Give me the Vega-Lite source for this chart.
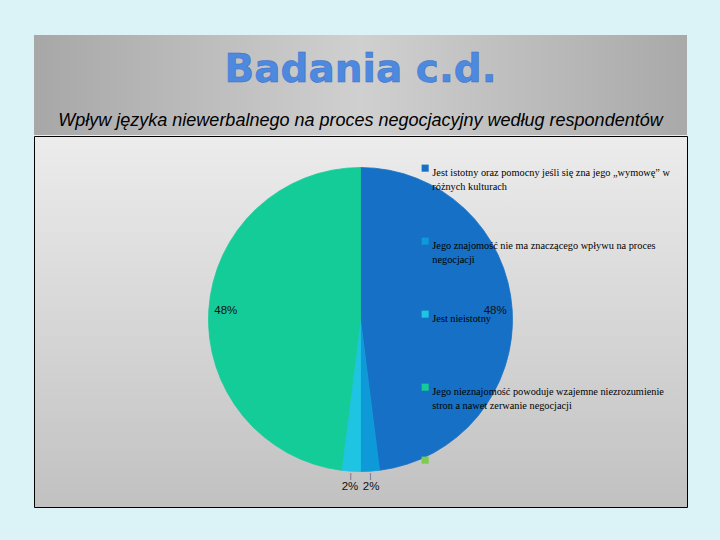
{
  "$schema": "https://vega.github.io/schema/vega-lite/v6.json",
  "background": "#dbf2f7",
  "padding": {"left": 33, "top": 35, "right": 34, "bottom": 34},
  "spacing": 0,
  "config": {
    "style": {"guide-label": {"lineHeight": 14}},
    "concat": {"spacing": 0}
  },
  "vconcat": [
    {
      "width": 653,
      "height": 100,
      "view": {
        "stroke": null,
        "fill": {
          "gradient": "linear",
          "x1": 0, "y1": 0, "x2": 1, "y2": 0,
          "stops": [
            {"offset": 0, "color": "#a7a7a7"},
            {"offset": 0.5, "color": "#d0d0d0"},
            {"offset": 1, "color": "#a9a9a9"}
          ]
        }
      },
      "data": {"values": [{"tytul": "Badania c.d.", "podtytul": "Wpływ języka niewerbalnego na proces negocjacyjny według respondentów"}]},
      "layer": [
        {
          "mark": {"type": "text", "font": "DejaVu Sans", "fontWeight": "bold", "fontSize": 39, "fill": "#4d89de", "stroke": "#3b6ec4", "strokeWidth": 0.5, "baseline": "middle", "align": "center", "dy": -15},
          "encoding": {"text": {"field": "tytul", "type": "nominal"}}
        },
        {
          "mark": {"type": "text", "font": "Liberation Sans", "fontStyle": "italic", "fontSize": 18, "fill": "#000000", "baseline": "middle", "align": "center", "dy": 36},
          "encoding": {"text": {"field": "podtytul", "type": "nominal"}}
        }
      ]
    },
    {
      "width": 653,
      "height": 371,
      "view": {
        "stroke": "#000000",
        "strokeWidth": 1,
        "fill": {
          "gradient": "linear",
          "x1": 0, "y1": 0, "x2": 0, "y2": 1,
          "stops": [
            {"offset": 0, "color": "#ececec"},
            {"offset": 1, "color": "#c1c1c1"}
          ]
        }
      },
      "data": {"values": [
        {"kategoria": "Jest istotny oraz pomocny jeśli się zna jego „wymowę” w\nróżnych kulturach", "udzial": 0.48, "kolejnosc": 1},
        {"kategoria": "Jego znajomość nie ma znaczącego wpływu na proces\nnegocjacji", "udzial": 0.02, "kolejnosc": 2},
        {"kategoria": "Jest nieistotny", "udzial": 0.02, "kolejnosc": 3},
        {"kategoria": "Jego nieznajomość powoduje wzajemne niezrozumienie\nstron a nawet zerwanie negocjacji", "udzial": 0.48, "kolejnosc": 4},
        {"kategoria": " ", "udzial": 0, "kolejnosc": 5}
      ]},
      "encoding": {
        "theta": {"field": "udzial", "type": "quantitative", "stack": true},
        "order": {"field": "kolejnosc", "type": "quantitative"}
      },
      "layer": [
        {
          "mark": {"type": "arc", "outerRadius": 152, "yOffset": -2, "strokeWidth": 0.8},
          "encoding": {
            "stroke": {
              "field": "kategoria",
              "type": "nominal",
              "sort": null,
              "scale": {"range": ["#1570c6", "#0e9ad8", "#1ec4e2", "#14cc98", "rgba(0,0,0,0)"]},
              "legend": null
            },
            "color": {
              "field": "kategoria",
              "type": "nominal",
              "sort": null,
              "scale": {"range": ["#1570c6", "#0e9ad8", "#1ec4e2", "#14cc98", "#7ccc50"]},
              "legend": {
                "orient": "none",
                "legendX": 386,
                "legendY": 128,
                "title": null,
                "symbolType": "square",
                "symbolSize": 50,
                "symbolStrokeWidth": 0,
                "labelFont": "Liberation Serif",
                "labelFontSize": 10.3,
                "labelColor": "#000000",
                "labelLimit": 320,
                "labelExpr": "split(datum.label, '\\n')",
                "labelBaseline": "top",
                "labelOffset": 2,
                "rowPadding": 43,
                "columns": 1,
                "gridAlign": "all",
                "padding": 0,
                "labelOverlap": false
              }
            }
          }
        },
        {
          "mark": {"type": "text", "radius": 135, "yOffset": -2, "font": "Liberation Sans", "fontSize": 11.5, "fill": "#111111"},
          "encoding": {
            "text": {"condition": {"test": "datum.udzial >= 0.1", "field": "udzial", "type": "quantitative", "format": ".0%"}, "value": ""}
          }
        },
        {
          "mark": {"type": "text", "radius": 168, "yOffset": -2, "font": "Liberation Sans", "fontSize": 11.5, "fill": "#111111"},
          "encoding": {
            "text": {"condition": {"test": "datum.udzial > 0 && datum.udzial < 0.1", "field": "udzial", "type": "quantitative", "format": ".0%"}, "value": ""}
          }
        },
        {
          "mark": {"type": "text", "radius": 157, "yOffset": -2, "font": "Liberation Sans", "fontSize": 7, "fill": "#2a4a70"},
          "encoding": {
            "text": {"condition": {"test": "datum.udzial > 0 && datum.udzial < 0.1", "value": "|"}, "value": ""}
          }
        }
      ]
    }
  ]
}
